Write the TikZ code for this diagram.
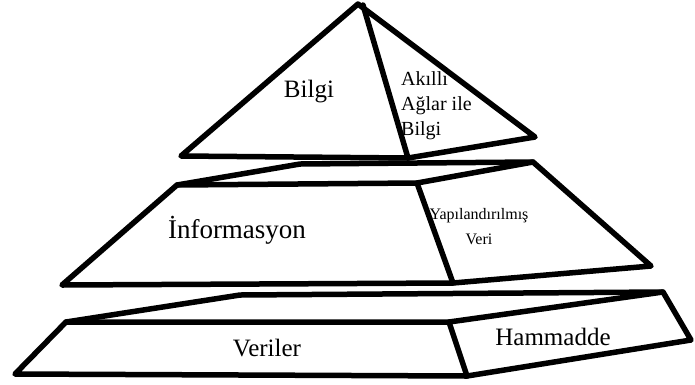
\documentclass[tikz,border=0pt]{standalone}
\usepackage{fontspec}
\setmainfont{Liberation Serif}
\tikzset{
  edge/.style={draw=black,line width=5.5pt,line join=round,line cap=round},
  biglabel/.style={inner sep=0pt,font=\fontsize{25}{30}\selectfont},
  smalllabel/.style={inner sep=0pt,font=\fontsize{20}{25}\selectfont,align=left},
  midlabel/.style={inner sep=0pt,font=\fontsize{16}{25}\selectfont,align=center},
}
\begin{document}
\begin{tikzpicture}[x=1pt,y=-1pt]
\useasboundingbox (0,0) rectangle (695,384);
% top triangle
\coordinate (tA) at (358,4);
\coordinate (tA2) at (363,5);
\coordinate (tL) at (181,156);
\coordinate (tD) at (408,158);
\coordinate (tR) at (535,137);
\draw[edge] (tA) -- (tL) -- (tD) -- (tR) -- cycle;
\draw[edge] (tA2) -- (tD);
% middle tier
\coordinate (mTL) at (177,185);
\coordinate (mBK) at (300,164);
\coordinate (mTR) at (533,162);
\coordinate (mFD) at (417,183);
\coordinate (mBD) at (453,283);
\coordinate (mBR) at (651,266);
\coordinate (mBL) at (62,285);
\draw[edge] (mTL) -- (mBK) -- (mTR) -- (mBR) -- (mBD) -- (mBL) -- cycle;
\draw[edge] (mTL) -- (mFD) -- (mTR);
\draw[edge] (mFD) -- (mBD);
% bottom tier
\coordinate (bTL) at (66,322);
\coordinate (bBK) at (240,295);
\coordinate (bTR) at (663,292);
\coordinate (bFD) at (449,322);
\coordinate (bBD) at (467,376);
\coordinate (bBR) at (691,340);
\coordinate (bBL) at (15,374);
\draw[edge] (bTL) -- (bBK) -- (bTR) -- (bBR) -- (bBD) -- (bBL) -- cycle;
\draw[edge] (bTL) -- (bFD) -- (bTR);
\draw[edge] (bFD) -- (bBD);
% labels
\node[biglabel] (bilgi) at (309,92) {Bilgi};
\node[smalllabel,anchor=north west] (akilli) at (401,71) {Akıllı\\Ağlar ile\\Bilgi};
\node[biglabel,font=\fontsize{27}{30}\selectfont] (info) at (237,230) {İnformasyon};
\node[midlabel] (yapi) at (479,227) {Yapılandırılmış\\Veri};
\node[biglabel] (veriler) at (267,348) {Veriler};
\node[biglabel] (ham) at (553,337) {Hammadde};
\end{tikzpicture}
\end{document}
